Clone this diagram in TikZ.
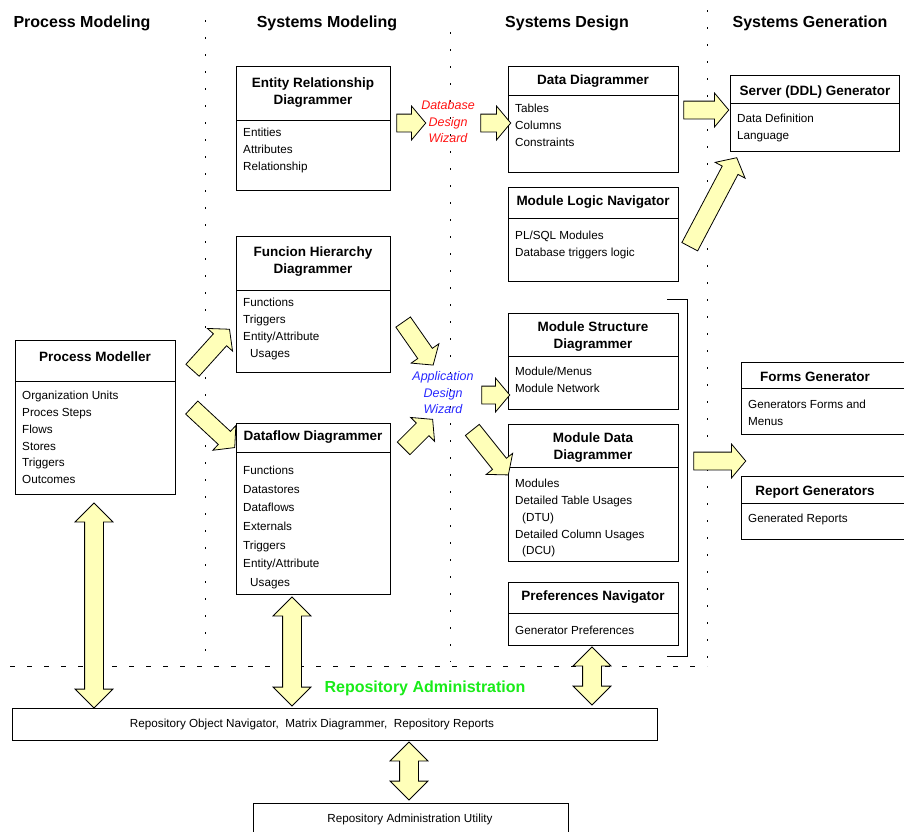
\documentclass[tikz,border=0pt]{standalone}
\usepackage{fontspec}
\setmainfont{Liberation Sans}
\usetikzlibrary{shapes.arrows,calc}

\definecolor{pale}{RGB}{255,255,185}
\definecolor{wizred}{RGB}{255,20,20}
\definecolor{wizblue}{RGB}{40,40,255}
\definecolor{repgreen}{RGB}{25,235,25}

\tikzset{
  box/.style={draw, line width=0.9pt, anchor=north west, inner sep=0pt},
  head/.style={font=\fontsize{13.5}{17}\selectfont\bfseries, align=center, inner sep=0pt},
  items/.style={font=\fontsize{11.7}{16.8}\selectfont, align=left, anchor=north west, inner sep=0pt},
  title/.style={font=\fontsize{16}{19}\selectfont\bfseries, inner sep=0pt},
  wizard/.style={font=\fontsize{12.5}{16.5}\selectfont\itshape, align=center, inner sep=0pt},
  fat/.style={single arrow, draw, fill=pale, line width=0.8pt, inner sep=0pt,
    text height=17pt, text depth=0pt, minimum width=0pt,
    single arrow head extend=8pt, single arrow tip angle=100},
  fatboth/.style={double arrow, draw, fill=pale, line width=0.8pt, inner sep=0pt,
    text height=18pt, text depth=0pt, minimum width=0pt,
    double arrow head extend=9.5pt, double arrow tip angle=90},
  sep/.style={line width=0.9pt, dash pattern=on 2pt off 15pt},
  hsep/.style={line width=0.9pt, dash pattern=on 5pt off 12pt}
}

\begin{document}
\begin{tikzpicture}[x=1pt, y=-1pt]
  \useasboundingbox (0,0) rectangle (904,831);

  % column titles
  \node[title] (t1) at (82,23) {Process Modeling};
  \node[title] (t2) at (327,23) {Systems Modeling};
  \node[title] (t3) at (567,23) {Systems Design};
  \node[title] (t4) at (810,23) {Systems Generation};

  % separators
  \draw[sep] (205,20) -- (205,662);
  \draw[sep] (450,32) -- (450,662);
  \draw[sep] (707,10) -- (707,665);
  \draw[hsep] (10,666) -- (707,666);

  % Systems Modeling
  \node[box, minimum width=154pt, minimum height=124pt] (er) at (236,66) {};
  \draw[line width=0.9pt] (er.west |- 0,120) -- (er.east |- 0,120);
  \node[head] (er-h) at (313,93) {Entity Relationship\\Diagrammer};
  \node[items] (er-i) at (243,128) {Entities\\Attributes\\Relationship};

  \node[box, minimum width=154pt, minimum height=136pt] (fh) at (236,236) {};
  \draw[line width=0.9pt] (fh.west |- 0,290) -- (fh.east |- 0,290);
  \node[head] (fh-h) at (313,262) {Funcion Hierarchy\\Diagrammer};
  \node[items] (fh-i) at (243,298) {Functions\\Triggers\\Entity/Attribute\\\hspace*{7pt}Usages};

  \node[box, minimum width=154pt, minimum height=171pt] (df) at (236,423) {};
  \draw[line width=0.9pt] (df.west |- 0,452) -- (df.east |- 0,452);
  \node[head] (df-h) at (313,437) {Dataflow Diagrammer};
  \node[items, font=\fontsize{11.7}{18.6}\selectfont] (df-i) at (243,466) {Functions\\Datastores\\Dataflows\\Externals\\Triggers\\Entity/Attribute\\\hspace*{7pt}Usages};

  % Process Modeling
  \node[box, minimum width=160pt, minimum height=154pt] (pm) at (15,340) {};
  \draw[line width=0.9pt] (pm.west |- 0,381) -- (pm.east |- 0,381);
  \node[head] (pm-h) at (95,357) {Process Modeller};
  \node[items] (pm-i) at (22,391) {Organization Units\\Proces Steps\\Flows\\Stores\\Triggers\\Outcomes};

  % Systems Design
  \node[box, minimum width=170pt, minimum height=106pt] (dd) at (508,66) {};
  \draw[line width=0.9pt] (dd.west |- 0,95) -- (dd.east |- 0,95);
  \node[head] (dd-h) at (593,81) {Data Diagrammer};
  \node[items] (dd-i) at (515,104) {Tables\\Columns\\Constraints};

  \node[box, minimum width=170pt, minimum height=94pt] (ml) at (508,187) {};
  \draw[line width=0.9pt] (ml.west |- 0,218) -- (ml.east |- 0,218);
  \node[head] (ml-h) at (593,202) {Module Logic Navigator};
  \node[items] (ml-i) at (515,231) {PL/SQL Modules\\Database triggers logic};

  \node[box, minimum width=170pt, minimum height=96pt] (ms) at (508,313) {};
  \draw[line width=0.9pt] (ms.west |- 0,356) -- (ms.east |- 0,356);
  \node[head] (ms-h) at (593,337) {Module Structure\\Diagrammer};
  \node[items] (ms-i) at (515,367) {Module/Menus\\Module Network};

  \node[box, minimum width=170pt, minimum height=137pt] (md) at (508,424) {};
  \draw[line width=0.9pt] (md.west |- 0,467) -- (md.east |- 0,467);
  \node[head] (md-h) at (593,448) {Module Data\\Diagrammer};
  \node[items] (md-i) at (515,479) {Modules\\Detailed Table Usages\\\hspace*{7pt}(DTU)\\Detailed Column Usages\\\hspace*{7pt}(DCU)};

  \node[box, minimum width=170pt, minimum height=63pt] (pn) at (508,582) {};
  \draw[line width=0.9pt] (pn.west |- 0,613) -- (pn.east |- 0,613);
  \node[head] (pn-h) at (593,597) {Preferences Navigator};
  \node[items] (pn-i) at (515,626) {Generator Preferences};

  \draw[line width=0.9pt] (667,299) -- (687,299) -- (687,656) -- (667,656);

  % Systems Generation
  \node[box, minimum width=169pt, minimum height=76pt] (sg) at (730,75) {};
  \draw[line width=0.9pt] (sg.west |- 0,103) -- (sg.east |- 0,103);
  \node[head] (sg-h) at (815,92) {Server (DDL) Generator};
  \node[items] (sg-i) at (737,114) {Data Definition\\Language};

  \node[box, minimum width=165pt, minimum height=72pt] (fg) at (741,362) {};
  \draw[line width=0.9pt] (fg.west |- 0,388) -- (fg.east |- 0,388);
  \node[head] (fg-h) at (815,377) {Forms Generator};
  \node[items] (fg-i) at (748,400) {Generators Forms and\\Menus};

  \node[box, minimum width=165pt, minimum height=63pt] (rg) at (741,476) {};
  \draw[line width=0.9pt] (rg.west |- 0,503) -- (rg.east |- 0,503);
  \node[head] (rg-h) at (815,492) {Report Generators};
  \node[items] (rg-i) at (748,514) {Generated Reports};

  % wizards
  \node[wizard, text=wizred] (dbw) at (448,122) {Database\\Design\\Wizard};
  \node[wizard, text=wizblue] (apw) at (443,393) {Application\\Design\\Wizard};

  % repository
  \node[title, text=repgreen] (ra) at (425,688) {Repository Administration};
  \node[box, minimum width=645pt, minimum height=32pt] (repo) at (12,708) {};
  \node[items, anchor=center] (repo-t) at (312,724) {Repository Object Navigator,\ \ Matrix Diagrammer,\ \ Repository Reports};
  \node[box, minimum width=315pt, minimum height=40pt] (util) at (253,803) {};
  \node[items, anchor=center] (util-t) at (410,819) {Repository Administration Utility};

  % arrow ends
  \coordinate (a1) at (393,123);  \coordinate (b1) at (422,123);
  \coordinate (a2) at (477,123);  \coordinate (b2) at (507,123);
  \coordinate (a3) at (680,110);  \coordinate (b3) at (725,110);
  \coordinate (a4) at (688,250);  \coordinate (b4) at (735,161);
  \coordinate (a5) at (190,373);  \coordinate (b5) at (227,332);
  \coordinate (a6) at (189,405);  \coordinate (b6) at (232,445);
  \coordinate (a7) at (401,319);  \coordinate (b7) at (431,362);
  \coordinate (a8) at (401,451);  \coordinate (b8) at (430,422);
  \coordinate (a9) at (478,395);  \coordinate (b9) at (506,395);
  \coordinate (a10) at (470,427); \coordinate (b10) at (506,472);
  \coordinate (a11) at (690,461); \coordinate (b11) at (742,461);
  \coordinate (c1) at (94,503);   \coordinate (d1) at (94,708);
  \coordinate (c2) at (292,597);  \coordinate (d2) at (292,706);
  \coordinate (c3) at (592,647);  \coordinate (d3) at (592,705);
  \coordinate (c4) at (409,742);  \coordinate (d4) at (409,800);

  \foreach \a/\b in {a1/b1, a2/b2, a3/b3, a4/b4, a5/b5, a6/b6, a7/b7, a8/b8, a9/b9, a10/b10, a11/b11}
    \path let \p1=(\a), \p2=(\b), \n1={veclen(\x2-\x1,\y2-\y1)} in
      (\a) -- node[fat, sloped, allow upside down, minimum height=\n1] (arr-\a) {} (\b);

  \foreach \a/\b in {c1/d1, c2/d2, c3/d3, c4/d4}
    \path let \p1=(\a), \p2=(\b), \n1={veclen(\x2-\x1,\y2-\y1)} in
      (\a) -- node[fatboth, sloped, allow upside down, minimum height=\n1] (arr-\a) {} (\b);
\end{tikzpicture}
\end{document}
